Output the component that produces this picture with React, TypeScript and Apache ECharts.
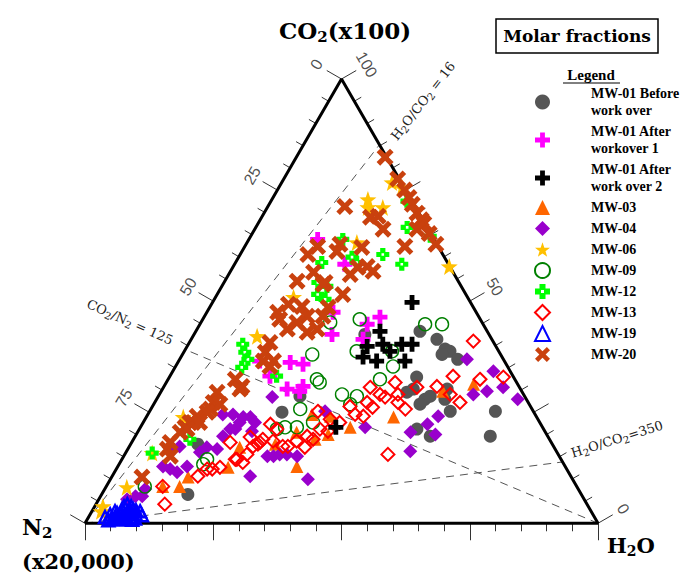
import React, { useEffect, useRef } from "react";
import * as echarts from "echarts";

// Ternary compositions: [CO2 (x100), N2 (x20,000), H2O] in percent of the plotted sum
type Tern = [number, number, number];

const SERIES_NAMES = [
  "MW-01 Before\nwork over",
  "MW-01 After\nworkover 1",
  "MW-01 After\nwork over 2",
  "MW-03",
  "MW-04",
  "MW-06",
  "MW-09",
  "MW-12",
  "MW-13",
  "MW-19",
  "MW-20",
];

const MW01_BEFORE: Tern[] = [
  [43.2, 13.1, 43.7], [41.4, 10.7, 47.9], [42.5, 24.2, 33.3], [39.2, 10.2, 50.6], [38.7, 9.5, 51.8],
  [36.9, 8.9, 54.2], [38.0, 11.4, 50.6], [32.9, 18.9, 48.2], [30.2, 20.9, 48.9], [29.5, 22.5, 48.0],
  [27.9, 19.8, 52.3], [26.8, 21.3, 51.9], [28.6, 18.4, 53.0], [30.2, 14.3, 55.5], [27.9, 15.9, 56.2],
  [25.2, 16.2, 58.6], [25.2, 7.4, 67.4], [21.2, 24.7, 54.1], [19.6, 22.9, 57.5], [19.6, 11.2, 69.2],
  [28.6, 43.8, 27.6], [25.0, 49.1, 25.9], [17.8, 69.1, 13.1], [6.5, 76.7, 16.8],
];

const MW01_AFTER1: Tern[] = [
  [63.9, 22.7, 13.4], [58.3, 20.2, 21.5], [47.5, 27.9, 24.6], [42.5, 30.6, 26.9], [36.2, 41.9, 21.9],
  [35.8, 39.6, 24.6], [33.1, 47.4, 19.5], [30.8, 42.1, 27.1], [30.2, 45.5, 24.3], [36.5, 47.7, 15.8],
  [46.4, 19.3, 34.3], [44.8, 22.6, 32.6], [41.4, 25.1, 33.5], [29.7, 43.3, 27.0],
];

const MW01_AFTER2: Tern[] = [
  [49.7, 11.4, 38.9], [43.2, 20.9, 35.9], [40.3, 21.8, 37.9], [39.8, 25.1, 35.1], [37.4, 27.1, 35.5],
  [36.5, 24.9, 38.6], [40.3, 18.1, 41.6], [40.3, 16.1, 43.6], [36.5, 19.4, 44.1], [38.7, 21.2, 40.1],
  [21.6, 40.3, 38.1],
];

const MW03: Tern[] = [
  [29.7, 15.4, 54.9], [31.3, 8.6, 60.1], [23.9, 27.9, 48.2], [21.6, 37.5, 40.9], [24.1, 40.1, 35.8],
  [24.5, 43.5, 32.0], [20.0, 42.6, 37.4], [18.9, 45.7, 35.4], [12.8, 52.3, 34.9], [17.8, 54.0, 28.2],
  [17.1, 61.3, 21.6], [12.6, 65.8, 21.6], [10.4, 74.7, 14.9], [8.3, 77.4, 14.3], [8.3, 80.7, 11.0],
  [20.5, 48.5, 31.0],
];

const MW04: Tern[] = [
  [36.9, 7.1, 56.0], [34.2, 3.3, 62.5], [30.6, 3.2, 66.2], [29.0, 9.8, 61.2], [29.7, 6.8, 63.5],
  [27.9, 1.7, 70.4], [24.1, 19.1, 56.8], [22.3, 22.1, 55.6], [20.5, 26.3, 53.2], [16.2, 28.5, 55.3],
  [20.0, 21.7, 58.3], [21.6, 34.6, 43.8], [28.4, 49.3, 22.3], [23.9, 55.8, 20.3], [22.7, 58.5, 18.8],
  [21.2, 60.1, 18.7], [20.7, 57.1, 22.2], [15.1, 55.7, 29.2], [15.5, 52.9, 31.6], [15.1, 51.1, 33.8],
  [9.9, 51.6, 38.5], [21.2, 61.1, 17.7], [19.6, 63.3, 17.1], [17.1, 67.7, 15.2], [16.7, 65.9, 17.4],
  [16.0, 69.6, 14.4], [17.3, 72.9, 9.8], [16.7, 74.4, 8.9], [12.8, 78.4, 8.8], [12.2, 77.3, 10.5],
  [11.5, 76.3, 12.2], [12.8, 73.7, 13.5], [10.6, 62.5, 26.9], [15.5, 54.3, 30.2], [15.1, 56.9, 28.0],
  [6.1, 85.8, 8.1], [7.7, 84.4, 7.9], [6.1, 87.1, 6.8], [5.4, 89.1, 5.5], [24.5, 58.9, 16.6],
  [24.5, 60.9, 14.6], [23.9, 57.2, 18.9], [25.2, 40.6, 34.2], [22.7, 55.5, 21.8],
];

const MW06: Tern[] = [
  [76.7, 1.8, 21.5], [75.6, 0.4, 24.0], [72.9, 8.4, 18.7], [71.1, 9.3, 19.6], [71.1, 6.4, 22.5],
  [63.2, 15.4, 21.4], [57.8, 0.1, 42.1], [50.9, 33.9, 15.2], [42.1, 45.4, 12.5], [23.9, 68.9, 7.2],
  [15.8, 79.0, 5.2], [8.1, 87.8, 4.1], [3.8, 94.6, 1.6], [2.7, 95.5, 1.8],
];

const MW09: Tern[] = [
  [45.9, 23.5, 30.6], [44.8, 11.3, 43.9], [44.8, 8.0, 47.2], [38.7, 27.7, 33.6], [38.7, 20.8, 40.5],
  [35.3, 22.3, 42.4], [32.4, 26.3, 41.3], [29.0, 35.4, 35.6], [28.6, 32.7, 38.7], [26.8, 34.9, 38.3],
  [45.2, 29.6, 25.2], [38.0, 36.7, 25.3], [32.4, 38.6, 29.0], [25.7, 45.2, 29.1], [21.6, 50.2, 28.2],
  [21.6, 47.9, 30.5], [22.7, 44.2, 33.1], [21.2, 52.0, 26.8], [14.4, 69.0, 16.6], [13.3, 70.3, 16.4],
  [8.3, 84.2, 7.5], [31.7, 38.4, 29.9],
];

const MW12: Tern[] = [
  [66.6, 3.9, 29.5], [64.6, 0.4, 35.0], [60.5, 11.7, 27.8], [58.3, 9.1, 32.6], [63.9, 17.8, 18.3],
  [58.7, 24.5, 16.8], [59.9, 18.0, 22.1], [58.7, 17.7, 23.6], [54.2, 27.5, 18.3], [53.3, 26.2, 20.5],
  [51.5, 28.9, 19.6], [50.4, 28.0, 21.6], [40.3, 49.1, 10.6], [38.5, 49.6, 11.9], [35.1, 51.9, 13.0],
  [36.9, 49.8, 13.3], [33.1, 46.1, 20.8], [18.9, 70.1, 11.0], [15.8, 79.0, 5.2], [72.5, 1.0, 26.5],
];

const MW13: Tern[] = [
  [41.0, 3.8, 55.2], [33.1, 11.7, 55.2], [32.4, 6.8, 60.8], [32.9, 2.0, 65.1], [27.2, 13.3, 59.5],
  [29.0, 14.3, 56.7], [30.8, 16.0, 53.2], [30.6, 20.0, 49.4], [29.0, 24.5, 46.5], [31.7, 23.7, 44.6],
  [27.2, 25.4, 47.4], [25.7, 24.7, 49.6], [28.4, 27.3, 44.3], [29.0, 28.0, 43.0], [30.6, 29.1, 40.3],
  [27.2, 31.4, 41.4], [26.1, 30.9, 43.0], [24.1, 33.7, 42.2], [26.3, 35.2, 38.5], [15.5, 33.2, 51.3],
  [25.2, 42.0, 32.8], [23.4, 40.5, 36.1], [22.7, 39.0, 38.3], [24.5, 35.1, 40.4], [21.2, 43.6, 35.2],
  [20.7, 42.3, 37.0], [19.6, 46.9, 33.5], [18.5, 49.5, 32.0], [17.3, 51.8, 30.9], [18.9, 46.1, 35.0],
  [21.2, 52.0, 26.8], [22.3, 52.7, 25.0], [17.8, 57.4, 24.8], [17.3, 58.6, 24.1], [15.5, 60.7, 23.8],
  [13.7, 62.4, 23.9], [14.4, 63.5, 22.1], [17.3, 52.8, 29.9], [17.1, 48.6, 34.3], [18.9, 55.9, 25.2],
  [18.5, 54.1, 27.4], [18.2, 56.8, 25.0], [19.4, 58.1, 22.5], [18.2, 62.6, 19.2], [14.4, 63.2, 22.4],
  [12.6, 67.4, 20.0], [12.2, 70.1, 17.7], [10.6, 72.7, 16.7], [8.3, 80.7, 11.0], [4.3, 82.3, 13.4],
  [12.2, 69.1, 18.7],
];

const MW19: Tern[] = [
  [1.4, 95.4, 3.2], [2.0, 94.1, 3.9], [2.7, 92.8, 4.5], [1.6, 92.8, 5.6], [3.2, 91.2, 5.6],
  [2.0, 91.2, 6.8], [2.7, 90.3, 7.0], [1.4, 90.5, 8.1], [3.2, 89.0, 7.8], [2.0, 89.1, 8.9],
  [2.7, 87.9, 9.4], [0.9, 94.3, 4.8], [0.9, 92.7, 6.4], [0.9, 91.3, 7.8], [1.1, 89.7, 9.2],
  [1.8, 88.0, 10.2], [0.7, 95.1, 4.2], [2.3, 92.6, 5.1], [3.8, 90.5, 5.7], [3.8, 89.1, 7.1],
  [1.2, 93.6, 5.2], [2.4, 91.8, 5.8], [1.5, 91.9, 6.6], [2.4, 90.0, 7.6], [1.3, 89.9, 8.8],
  [2.9, 88.6, 8.5], [4.3, 89.6, 6.1], [0.8, 90.4, 8.8],
];

const MW20: Tern[] = [
  [82.4, 0.3, 17.3], [77.5, 0.3, 22.2], [75.0, 0.2, 24.8], [73.3, 0.2, 26.5], [71.8, 0.3, 27.9],
  [69.8, 0.4, 29.8], [68.3, 0.3, 31.4], [67.5, 0.2, 32.3], [65.2, 0.3, 34.5], [66.2, 2.2, 31.6],
  [62.8, 0.2, 37.0], [71.3, 13.7, 15.0], [68.9, 9.9, 21.2], [69.1, 8.3, 22.6], [66.2, 8.8, 25.0],
  [62.3, 6.5, 31.2], [62.8, 18.9, 18.3], [61.2, 20.3, 18.5], [62.3, 23.5, 14.2], [60.5, 26.3, 13.2],
  [56.5, 27.2, 16.3], [54.5, 31.4, 14.1], [54.2, 26.1, 19.7], [56.0, 20.3, 23.7], [57.6, 18.0, 24.4],
  [62.1, 15.0, 22.9], [57.8, 16.1, 26.1], [56.7, 15.5, 27.8], [51.5, 24.0, 24.5], [53.8, 26.7, 19.5],
  [47.5, 38.7, 13.8], [49.3, 35.7, 15.0], [48.8, 33.3, 17.9], [46.6, 33.4, 20.0], [45.2, 36.1, 18.7],
  [43.7, 38.7, 17.6], [45.9, 39.1, 15.0], [43.7, 32.9, 23.4], [43.0, 35.2, 21.8], [40.7, 43.6, 15.7],
  [38.5, 45.6, 15.9], [36.5, 47.0, 16.5], [36.5, 45.0, 18.5], [35.3, 46.3, 18.4], [32.4, 54.5, 13.1],
  [30.8, 54.0, 15.2], [30.2, 54.7, 15.1], [29.5, 59.5, 11.0], [27.2, 61.4, 11.4], [25.7, 62.7, 11.6],
  [26.8, 60.3, 12.9], [24.1, 66.1, 9.8], [22.7, 68.2, 9.1], [21.6, 69.7, 8.7], [25.0, 63.7, 11.3],
  [22.7, 67.6, 9.7], [20.5, 71.2, 8.3], [21.2, 69.5, 9.3], [16.7, 75.6, 7.7], [15.1, 75.8, 9.1],
  [18.2, 74.3, 7.5], [10.4, 83.7, 5.9], [22.7, 66.3, 11.0], [48.6, 28.3, 23.1], [46.6, 30.3, 23.1],
];

// axis ticks (percent along each edge) and labelled values
const AXIS_TICKS = [0, 5, 10, 15, 20, 25, 30, 35, 40, 45, 50, 55, 60, 65, 70, 75, 80, 85, 90, 95, 100];
const MAJOR_TICKS = [0, 25, 50, 75, 100];
const LEFT_LABELS = [0, 25, 50, 75];
const RIGHT_LABELS = [100, 50, 0];

// reference ratio lines (ternary end points)
const RATIO_FROM: Tern[] = [[0, 100, 0], [0, 100, 0], [0, 0, 100]];
const RATIO_TO: Tern[] = [[85.2, 0, 14.8], [13.8, 0, 86.2], [39.1, 60.9, 0]];

const H = Math.sqrt(3) / 2;
const SIDE = 513;
const PX = 1 / SIDE;

function toXY(t: Tern): [number, number] {
  const s = t[0] + t[1] + t[2];
  return [(t[2] + t[0] / 2) / s, (t[0] / s) * H];
}

const PLUS = "path://M3.4,0L6.6,0L6.6,3.4L10,3.4L10,6.6L6.6,6.6L6.6,10L3.4,10L3.4,6.6L0,6.6L0,3.4L3.4,3.4Z";
const HOLLOW_PLUS = "path://M3,0L7,0L7,3L10,3L10,7L7,7L7,10L3,10L3,7L0,7L0,3L3,3Z M4,4L4,6L6,6L6,4Z";
const XMARK = "path://M0,2.1L2.1,0L5,2.9L7.9,0L10,2.1L7.1,5L10,7.9L7.9,10L5,7.1L2.1,10L0,7.9L2.9,5Z";
const STAR = "path://M5,0L6.18,3.38L9.76,3.45L6.9,5.62L7.94,9.05L5,7L2.06,9.05L3.1,5.62L0.24,3.45L3.82,3.38Z";

const SERIF = "'DejaVu Serif', 'Liberation Serif', serif";
const LSERIF = "'Liberation Serif', 'DejaVu Serif', serif";
const SANS = "'Liberation Sans', Arial, sans-serif";

export default function App() {
  const ref = useRef<HTMLDivElement>(null);

  useEffect(() => {
    if (!ref.current) return;
    const chart = echarts.init(ref.current, undefined, { renderer: "svg" });

    const styles: any[] = [
      { data: MW01_BEFORE, symbol: "circle", size: 13, color: "#555555", hollow: false },
      { data: MW01_AFTER1, symbol: PLUS, size: 15, color: "#FF00FF", hollow: false },
      { data: MW01_AFTER2, symbol: PLUS, size: 15, color: "#000000", hollow: false },
      { data: MW03, symbol: "triangle", size: 13, color: "#FF6600", hollow: false },
      { data: MW04, symbol: "diamond", size: 14, color: "#9900CC", hollow: false },
      { data: MW06, symbol: STAR, size: 17, color: "#FFC000", hollow: false },
      { data: MW09, symbol: "circle", size: 13, color: "#008000", hollow: true, bw: 1.4 },
      { data: MW12, symbol: HOLLOW_PLUS, size: 13, color: "#00FF00", hollow: false },
      { data: MW13, symbol: "diamond", size: 13, color: "#FF0000", hollow: true, bw: 2 },
      { data: MW19, symbol: "triangle", size: 12, color: "#0000FF", hollow: true, bw: 2.5 },
      { data: MW20, symbol: XMARK, size: 17, color: "#C9410E", hollow: false },
    ];

    const scatterSeries = styles.map((s, i) => ({
      type: "scatter",
      name: SERIES_NAMES[i],
      data: (s.data as Tern[]).map(toXY),
      symbol: s.symbol,
      symbolSize: s.size,
      clip: false,
      z: i === 2 ? 5 : 3,
      itemStyle: s.hollow
        ? { color: "rgba(255,255,255,0)", borderColor: s.color, borderWidth: s.bw, opacity: 1 }
        : { color: s.color, opacity: 1 },
    }));

    const vertices = [toXY([0, 100, 0]), toXY([0, 0, 100]), toXY([100, 0, 0]), toXY([0, 100, 0])];

    const tickLines: any[] = [];
    AXIS_TICKS.forEach((v) => {
      const len = (MAJOR_TICKS.includes(v) ? 17 : 8) * PX;
      const pl = toXY([100 - v, v, 0]);
      tickLines.push({ coords: [pl, [pl[0] - H * len, pl[1] + 0.5 * len]] });
      const pr = toXY([v, 0, 100 - v]);
      tickLines.push({ coords: [pr, [pr[0] + H * len, pr[1] + 0.5 * len]] });
      const pb = toXY([0, 100 - v, v]);
      tickLines.push({ coords: [pb, [pb[0], pb[1] - len]] });
    });

    const ratioLines = RATIO_FROM.map((f, i) => ({ coords: [toXY(f), toXY(RATIO_TO[i])] }));

    const LD = 29 * PX;
    const labelData: any[] = [];
    LEFT_LABELS.forEach((v) => {
      const p = toXY([100 - v, v, 0]);
      labelData.push({ value: [p[0] - H * LD, p[1] + 0.5 * LD], label: { formatter: String(v), rotate: 60 } });
    });
    RIGHT_LABELS.forEach((v) => {
      const p = toXY([v, 0, 100 - v]);
      labelData.push({ value: [p[0] + H * LD, p[1] + 0.5 * LD], label: { formatter: String(v), rotate: -60 } });
    });

    const richMain = (size: number) => ({ fontFamily: SERIF, fontWeight: "bold", fontSize: size, lineHeight: size + 5, fill: "#000", color: "#000" });
    const richSub = (size: number) => ({ fontFamily: SERIF, fontWeight: "bold", fontSize: size, lineHeight: size, verticalAlign: "bottom", fill: "#000", color: "#000" });
    const ratioR = { fontFamily: SERIF, fontSize: 13, lineHeight: 17, fill: "#222", color: "#222" };
    const ratioS = { fontFamily: SERIF, fontSize: 10, lineHeight: 10, verticalAlign: "bottom", fill: "#222", color: "#222" };

    chart.setOption({
      animation: false,
      backgroundColor: "#ffffff",
      grid: { left: 85, top: 79, width: SIDE, height: SIDE * H, show: false },
      xAxis: { type: "value", min: 0, max: 1, show: false },
      yAxis: { type: "value", min: 0, max: H, show: false },
      legend: {
        data: SERIES_NAMES,
        orient: "vertical",
        left: 534,
        top: 85,
        padding: 0,
        itemGap: 4,
        itemWidth: 15,
        itemHeight: 15,
        selectedMode: false,
        textStyle: {
          fontFamily: LSERIF,
          fontWeight: "bold",
          fontSize: 14,
          lineHeight: 17,
          color: "#000",
          padding: [0, 0, 0, 36],
        },
      },
      graphic: [
        {
          type: "text", x: 345, y: 30,
          style: { text: "{a|CO}{b|2}{a|(x100)}", rich: { a: richMain(23), b: richSub(15) }, align: "center", verticalAlign: "middle", textAlign: "center", textVerticalAlign: "middle" },
        },
        { type: "rect", shape: { x: 496, y: 19, width: 162, height: 34 }, style: { fill: "#fff", stroke: "#000", lineWidth: 1.5 } },
        {
          type: "text", x: 577, y: 36,
          style: { text: "Molar fractions", fontFamily: SERIF, fontWeight: "bold", fontSize: 17, fill: "#000", align: "center", verticalAlign: "middle", textAlign: "center", textVerticalAlign: "middle" },
        },
        {
          type: "text", x: 591, y: 75,
          style: { text: "Legend", fontFamily: LSERIF, fontWeight: "bold", fontSize: 15, fill: "#000", align: "center", verticalAlign: "middle", textAlign: "center", textVerticalAlign: "middle" },
        },
        { type: "line", shape: { x1: 563, y1: 83, x2: 620, y2: 83 }, style: { stroke: "#000", lineWidth: 1 } },
        {
          type: "text", x: 22, y: 527,
          style: { text: "{a|N}{b|2}", rich: { a: richMain(22), b: richSub(15) }, align: "left", verticalAlign: "middle", textAlign: "left", textVerticalAlign: "middle" },
        },
        {
          type: "text", x: 22, y: 561,
          style: { text: "(x20,000)", fontFamily: SERIF, fontWeight: "bold", fontSize: 21, fill: "#000", align: "left", verticalAlign: "middle", textAlign: "left", textVerticalAlign: "middle" },
        },
        {
          type: "text", x: 607, y: 545,
          style: { text: "{a|H}{b|2}{a|O}", rich: { a: richMain(21), b: richSub(14) }, align: "left", verticalAlign: "middle", textAlign: "left", textVerticalAlign: "middle" },
        },
        {
          type: "text", x: 423, y: 101, rotation: (52 * Math.PI) / 180,
          style: { text: "{r|H}{s|2}{r|O/CO}{s|2}{r| = 16}", rich: { r: ratioR, s: ratioS }, align: "center", verticalAlign: "middle", textAlign: "center", textVerticalAlign: "middle" },
        },
        {
          type: "text", x: 617, y: 439, rotation: (17.5 * Math.PI) / 180,
          style: { text: "{r|H}{s|2}{r|O/CO}{s|2}{r|=350}", rich: { r: ratioR, s: ratioS }, align: "center", verticalAlign: "middle", textAlign: "center", textVerticalAlign: "middle" },
        },
        {
          type: "text", x: 130, y: 322, rotation: (-24 * Math.PI) / 180,
          style: { text: "{r|CO}{s|2}{r|/N}{s|2}{r| = 125}", rich: { r: ratioR, s: ratioS }, align: "center", verticalAlign: "middle", textAlign: "center", textVerticalAlign: "middle" },
        },
      ],
      series: [
        {
          type: "lines", coordinateSystem: "cartesian2d", silent: true, clip: false, z: 1,
          data: ratioLines,
          lineStyle: { color: "#555", width: 1, type: [8, 6], opacity: 1 },
        },
        {
          type: "lines", coordinateSystem: "cartesian2d", silent: true, clip: false, z: 1,
          data: tickLines,
          lineStyle: { color: "#333", width: 1, opacity: 1 },
        },
        {
          type: "line", silent: true, clip: false, z: 2, symbol: "none",
          data: vertices,
          lineStyle: { color: "#000", width: 3 },
        },
        {
          type: "scatter", silent: true, clip: false, z: 2,
          symbolSize: 1,
          itemStyle: { color: "rgba(0,0,0,0)" },
          data: labelData,
          label: { show: true, position: "inside", color: "#222", fontFamily: SANS, fontSize: 16 },
        },
        ...scatterSeries,
      ],
    });

    return () => chart.dispose();
  }, []);

  return <div ref={ref} style={{ position: "absolute", left: 0, top: 0, width: 685, height: 573 }} />;
}
